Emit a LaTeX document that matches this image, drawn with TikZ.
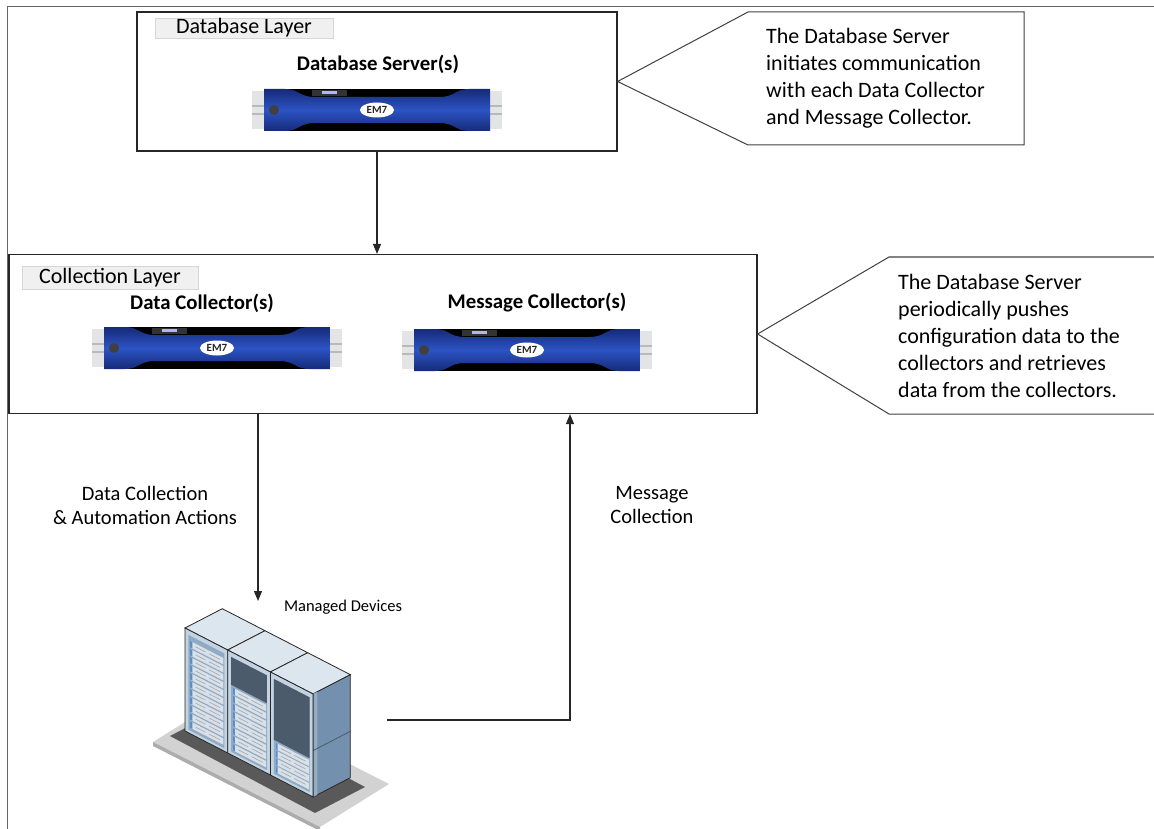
\documentclass[tikz,border=0pt]{standalone}
\usepackage{fontspec}
\setmainfont{Carlito}
\usetikzlibrary{arrows.meta,positioning}
\definecolor{emblue}{RGB}{44,84,196}
\definecolor{emdark}{RGB}{22,42,120}
\definecolor{handlegray}{RGB}{226,228,230}
\definecolor{tagfill}{RGB}{240,240,240}
\definecolor{tagline}{RGB}{214,214,214}
\definecolor{racktop}{HTML}{DCE6EE}
\definecolor{rackframe}{HTML}{C3D3E1}
\definecolor{rackinner}{HTML}{8FAAC4}
\definecolor{rackdark}{HTML}{4B5B6B}
\definecolor{rackside}{HTML}{7391AE}
\definecolor{unitfill}{HTML}{D9E0E7}
\definecolor{unitblue}{HTML}{5B8DC8}
\definecolor{platlight}{HTML}{D2D2D2}
\definecolor{platdark}{HTML}{595959}
\newcommand{\notefont}{\fontsize{22}{27}\selectfont}
\newcommand{\headfont}{\fontsize{20.8}{24}\selectfont\bfseries}
\newcommand{\flowfont}{\fontsize{20.5}{24}\selectfont}
\newcommand{\skewbox}[5]{\path[#1] (#2,#3) -- (#4,#3) -- (#4,#5) -- (#2,#5) -- cycle;}
\tikzset{
  emserver/.pic={
    \fill[handlegray] (-125,-19) rectangle (-113,19);
    \fill[handlegray] (113,-19) rectangle (125,19);
    \fill[gray!55] (-125,-5) rectangle (-113,-3);
    \fill[gray!55] (-125,3) rectangle (-113,5);
    \fill[gray!55] (113,-5) rectangle (125,-3);
    \fill[gray!55] (113,3) rectangle (125,5);
    \fill[black] (-113,-21) rectangle (113,21);
    \shade[top color=emdark,bottom color=emdark,middle color=emblue]
      (-113,-21) -- (-92,-21) .. controls (-78,-21) and (-78,-13) .. (-62,-13)
      -- (62,-13) .. controls (78,-13) and (78,-21) .. (92,-21) -- (113,-21)
      -- (113,21) -- (92,21) .. controls (78,21) and (78,13) .. (62,13)
      -- (-62,13) .. controls (-78,13) and (-78,21) .. (-92,21) -- (-113,21) -- cycle;
    \fill[black!80] (-65,-20) rectangle (-30,-14);
    \fill[blue!30] (-55,-19) rectangle (-40,-16);
    \fill[black!75] (-103,0) circle [radius=5];
    \fill[white] (0,0) ellipse [x radius=17, y radius=7.5];
    \node[font=\fontsize{11}{11}\selectfont\bfseries,text=black!85,inner sep=0pt] at (0,0) {EM7};
  }
}
\begin{document}
\begin{tikzpicture}[x=1pt,y=-1pt,
  layerbox/.style={draw=black!85,line width=1.2pt},
  tagbox/.style={draw=tagline,fill=tagfill,line width=0.8pt,inner sep=0pt,font=\notefont},
  callout/.style={draw=black!75,line width=1pt},
  flow/.style={draw=black!85,line width=1.2pt,-{Triangle[length=10pt,width=8pt]}},
  edge/.style={draw=black!85,line width=0.8pt}]
\useasboundingbox (0,0) rectangle (1154,829);
\draw[gray!80!black,line width=1pt] (7,829) -- (7,7) -- (1154,7);
\node[layerbox,minimum width=480pt,minimum height=139pt] (dblayer) at (377,81.5) {};
\node[tagbox,minimum width=178pt,minimum height=20pt] (dbtag) at (244,28) {Database Layer};
\node[font=\headfont] (dbserver) at (378,64) {Database Server(s)};
\pic at (377,110) {emserver};
\node[layerbox,minimum width=748pt,minimum height=159pt] (collayer) at (383,334) {};
\node[tagbox,minimum width=176pt,minimum height=23pt] (coltag) at (110,278) {Collection Layer};
\node[font=\headfont] (datacoll) at (202,303) {Data Collector(s)};
\node[font=\headfont] (msgcoll) at (537,303) {Message Collector(s)};
\pic at (217,348) {emserver};
\pic at (527,350) {emserver};
\draw[callout] (dblayer.east) -- (748,12) -- (1024,12) -- (1024,145) -- (748,145) -- cycle;
\node[font=\notefont,align=left,anchor=west,inner sep=0pt] (dbnote) at (766,78)
  {The Database Server\\initiates communication\\with each Data Collector\\and Message Collector.};
\draw[callout] (collayer.east) -- (889,257) -- (1158,257) -- (1158,414) -- (889,414) -- cycle;
\node[font=\notefont,align=left,anchor=west,inner sep=0pt] (colnote) at (898,336)
  {The Database Server\\periodically pushes\\configuration data to the\\collectors and retrieves\\data from the collectors.};
\draw[flow] (dblayer.south) -- (dblayer.south |- collayer.north);
\coordinate (devtop) at (258,601);
\coordinate (devright) at (387,720);
\draw[flow] ([xshift=-125pt]collayer.south) -- (devtop);
\draw[flow] (devright) -| ([xshift=187pt]collayer.south);
\node[font=\flowfont,align=center] (dcflow) at (145,505) {Data Collection\\\& Automation Actions};
\node[font=\flowfont,align=center] (mcflow) at (652,505) {Message\\Collection};
\node[font=\fontsize{16.5}{18}\selectfont] (devices) at (343,607) {Managed Devices};
\fill[platlight] (153,742) -- (320,827) -- (389,784) -- (222,699) -- cycle;
\fill[gray!65] (153,742) -- (320,827) -- (320,831) -- (153,746) -- cycle;
\fill[platdark] (170,736) -- (315,813) -- (365,787) -- (220,710) -- cycle;
\begin{scope}[shift={(185,628)},x={(42.7pt,-22pt)},y={(37.3pt,19.3pt)}]
  \foreach \i in {0,1,2}
    \draw[fill=racktop,edge] (\i,0) -- ++(1,0) -- ++(0,1) -- ++(-1,0) -- cycle;
\end{scope}
\begin{scope}[shift={(313,694)},x={(37.3pt,19.3pt)},y={(0pt,-103pt)}]
  \draw[fill=rackside,edge] (0,0) -- (1,0) -- (1,1) -- (0,1) -- cycle;
  \skewbox{fill=rackside!75!white}{0}{0}{0.12}{1}
  \draw[rackdark,line width=0.8pt] (0,0.55) -- (1,0.55);
\end{scope}
\begin{scope}[shift={(185,628)},x={(42.7pt,-22pt)},y={(0pt,-103pt)}]
  \foreach \i in {0,1,2} {
    \draw[fill=rackframe,edge] (\i,0) -- ++(1,0) -- ++(0,1) -- ++(-1,0) -- cycle;
    \skewbox{fill=rackinner}{\i+0.08}{0.05}{\i+0.92}{0.97}
  }
  \skewbox{fill=rackdark}{1.08}{0.05}{1.92}{0.32}
  \skewbox{fill=rackdark}{2.08}{0.05}{2.92}{0.64}
  \foreach \i/\a/\n/\s in {0/0.10/10/0.078,1/0.34/7/0.078,2/0.66/3/0.075}
    \foreach \k in {0,...,\n} {
      \skewbox{fill=unitfill}{\i+0.12}{\a+\k*\s}{\i+0.9}{\a+\k*\s+0.062}
      \skewbox{fill=unitblue}{\i+0.12}{\a+\k*\s}{\i+0.17}{\a+\k*\s+0.062}
      \draw[gray!70,line width=0.6pt] (\i+0.25,\a+\k*\s+0.03) -- (\i+0.48,\a+\k*\s+0.03);
      \draw[gray!70,line width=0.6pt] (\i+0.56,\a+\k*\s+0.03) -- (\i+0.82,\a+\k*\s+0.03);
    }
\end{scope}
\end{tikzpicture}
\end{document}
